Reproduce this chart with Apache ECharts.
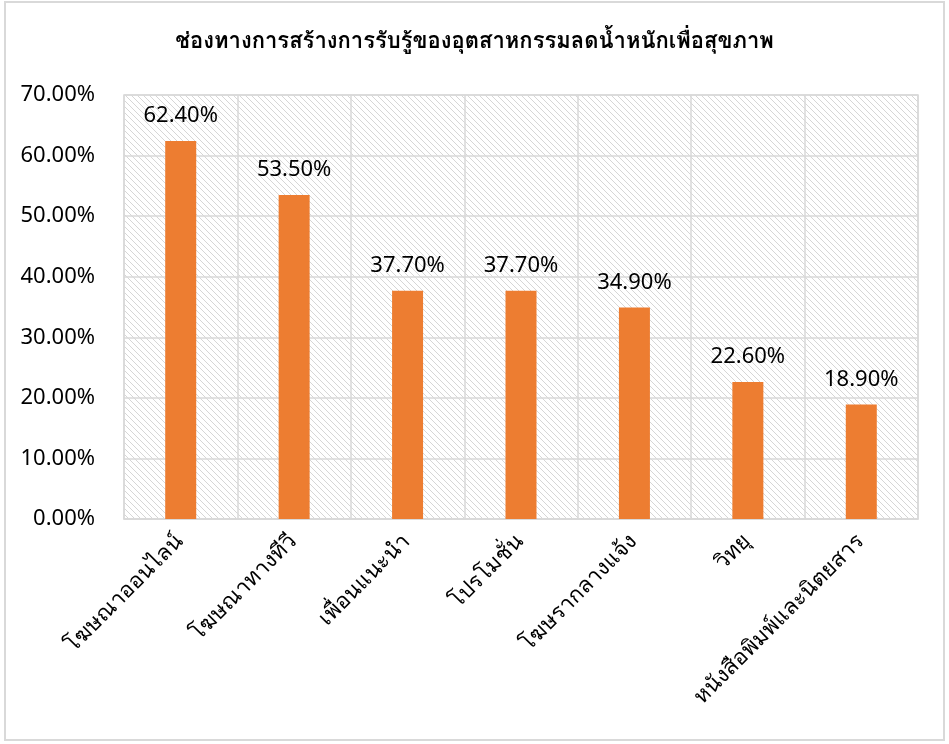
<!DOCTYPE html>
<html><head><meta charset="utf-8">
<script src="https://cdn.jsdelivr.net/npm/echarts@6/dist/echarts.min.js"></script>
<style>html,body{margin:0;padding:0;background:#fff}#c{width:949px;height:744px}</style>
</head><body><div id="c"></div>
<script>
const title = 'ช่องทางการสร้างการรับรู้ของอุตสาหกรรมลดน้ำหนักเพื่อสุขภาพ';
const categories = ['โฆษณาออนไลน์','โฆษณาทางทีวี','เพื่อนแนะนำ','โปรโมชั่น','โฆษรากลางแจ้ง','วิทยุ','หนังสือพิมพ์และนิตยสาร'];
const values = [0.624, 0.535, 0.377, 0.377, 0.349, 0.226, 0.189];

const pc = document.createElement('canvas');
pc.width = 6; pc.height = 6;
const ctx = pc.getContext('2d');
ctx.fillStyle = '#ffffff'; ctx.fillRect(0,0,6,6);
ctx.strokeStyle = '#d6d6d6'; ctx.lineWidth = 1;
ctx.beginPath();
for (let k=-6;k<=12;k+=6){ ctx.moveTo(k,0); ctx.lineTo(k+6,6); }
ctx.stroke();

const NUMFONT = "'Noto Sans', sans-serif";
const THFONT = "Loma, 'Noto Sans Thai Looped', sans-serif";
const chart = echarts.init(document.getElementById('c'));
chart.setOption({
  animation:false,
  backgroundColor:'#fff',
  title:{text:title,left:'center',top:27,textStyle:{fontSize:22,fontWeight:'bold',color:'#000',fontFamily:THFONT}},
  graphic:[{type:'rect',shape:{x:5,y:2,width:939,height:738},style:{fill:'none',stroke:'#d9d9d9',lineWidth:2},silent:true}],
  grid:{left:124,right:31,top:95,bottom:225,show:true,backgroundColor:{image:pc,repeat:'repeat'},borderColor:'#d9d9d9',borderWidth:1.5},
  xAxis:{type:'category',data:categories,
    axisLine:{show:true,lineStyle:{color:'#d9d9d9',width:1.5}},axisTick:{show:false},
    splitLine:{show:true,interval:0,lineStyle:{color:'#d9d9d9',width:1.5}},
    axisLabel:{interval:0,rotate:45,margin:20,color:'#000',fontSize:22,fontFamily:THFONT}},
  yAxis:{type:'value',min:0,max:0.7,interval:0.1,
    axisLine:{show:false},axisTick:{show:false},
    splitLine:{lineStyle:{color:'#d9d9d9',width:1.5}},
    axisLabel:{color:'#000',fontSize:22,margin:29,fontFamily:NUMFONT,formatter:v=>(v*100).toFixed(2)+'%'}},
  series:[{type:'bar',data:values,barWidth:31,itemStyle:{color:'#ed7d31'},
    label:{show:true,position:'top',distance:14,color:'#000',fontSize:22,fontFamily:NUMFONT,formatter:p=>(p.value*100).toFixed(2)+'%'}}]
});
</script></body></html>
